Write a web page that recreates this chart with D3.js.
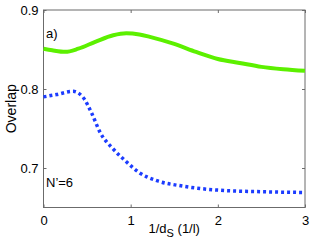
<!DOCTYPE html>
<html>
<head>
<meta charset="utf-8">
<script src="https://cdn.jsdelivr.net/npm/d3@7.9.0/dist/d3.min.js"></script>
<style>
  body { margin: 0; background: #fff; }
  svg { display: block; font-family: "Liberation Sans", Arial, sans-serif; }
  .axis path, .axis line { stroke: #6b6b6b; }
  .axis text { font-size: 13px; fill: #000; }
</style>
</head>
<body>
<svg id="chart" width="312" height="245"></svg>
<script>
// green curve (solid)
const greenX = [0, 0.1, 0.25, 0.4, 0.6, 0.8, 0.95, 1.1, 1.22, 1.5, 1.75, 2.0, 2.25, 2.5, 2.75, 3.0];
const greenY = [0.851, 0.849, 0.847, 0.851, 0.860, 0.868, 0.8705, 0.869, 0.866, 0.857, 0.847, 0.838, 0.833, 0.828, 0.825, 0.823];

// blue curve (dotted)
const blueX = [0, 0.15, 0.34, 0.45, 0.55, 0.65, 0.8, 0.95, 1.1, 1.3, 1.6, 2.0, 2.5, 3.0];
const blueY = [0.790, 0.793, 0.797, 0.790, 0.770, 0.745, 0.724, 0.708, 0.694, 0.684, 0.677, 0.672, 0.670, 0.669];

const xTicks = [0, 1, 2, 3];
const yTicks = [0.7, 0.8, 0.9];

const margin = { left: 43.5, right: 7, top: 10, bottom: 37.5 };
const W = 312, H = 245;

const svg = d3.select('#chart');

const x = d3.scaleLinear().domain([0, 3]).range([margin.left, W - margin.right]);
const y = d3.scaleLinear().domain([0.65, 0.9]).range([H - margin.bottom, margin.top]);

// frame
svg.append('rect')
   .attr('x', x(0)).attr('y', y(0.9))
   .attr('width', x(3) - x(0)).attr('height', y(0.65) - y(0.9))
   .attr('fill', 'none').attr('stroke', '#6b6b6b');

// axes, ticks pointing inward
svg.append('g').attr('class', 'axis')
   .attr('transform', `translate(0,${y(0.65)})`)
   .call(d3.axisBottom(x).tickValues(xTicks).tickFormat(d3.format('d'))
          .tickSizeInner(-3).tickSizeOuter(0).tickPadding(8));
svg.append('g').attr('class', 'axis')
   .attr('transform', `translate(0,${y(0.9)})`)
   .call(d3.axisTop(x).tickValues(xTicks).tickSizeInner(-3).tickSizeOuter(0).tickFormat(''));
svg.append('g').attr('class', 'axis')
   .attr('transform', `translate(${x(0)},0)`)
   .call(d3.axisLeft(y).tickValues(yTicks).tickFormat(d3.format('.1f'))
          .tickSizeInner(-3).tickSizeOuter(0).tickPadding(5));
svg.append('g').attr('class', 'axis')
   .attr('transform', `translate(${x(3)},0)`)
   .call(d3.axisRight(y).tickValues(yTicks).tickSizeInner(-3).tickSizeOuter(0).tickFormat(''));

svg.selectAll('.axis .domain').remove();

const line = d3.line()
  .x(d => x(d[0]))
  .y(d => y(d[1]))
  .curve(d3.curveMonotoneX);

svg.append('path')
   .datum(d3.zip(greenX, greenY))
   .attr('d', line)
   .attr('fill', 'none')
   .attr('stroke', '#5cf000')
   .attr('stroke-width', 4);

svg.append('path')
   .datum(d3.zip(blueX, blueY))
   .attr('d', line)
   .attr('fill', 'none')
   .attr('stroke', '#1c3cff')
   .attr('stroke-width', 3.5)
   .attr('stroke-dasharray', '3,3');

// labels
svg.append('text')
   .attr('transform', `translate(16,${(y(0.9) + y(0.65)) / 2}) rotate(-90)`)
   .attr('text-anchor', 'middle')
   .attr('font-size', 14)
   .text('Overlap');

const xl = svg.append('text')
   .attr('x', x(1.5))
   .attr('y', 233)
   .attr('text-anchor', 'middle')
   .attr('font-size', 13);
xl.append('tspan').text('1/d');
xl.append('tspan').attr('dy', 4).attr('font-size', 11).text('S');
xl.append('tspan').attr('dy', -4).text(' (1/l)');

svg.append('text')
   .attr('x', 46).attr('y', 38)
   .attr('font-size', 13)
   .text('a)');

svg.append('text')
   .attr('x', 46).attr('y', 187)
   .attr('font-size', 13)
   .text('N\u2019=6');
</script>
</body>
</html>
